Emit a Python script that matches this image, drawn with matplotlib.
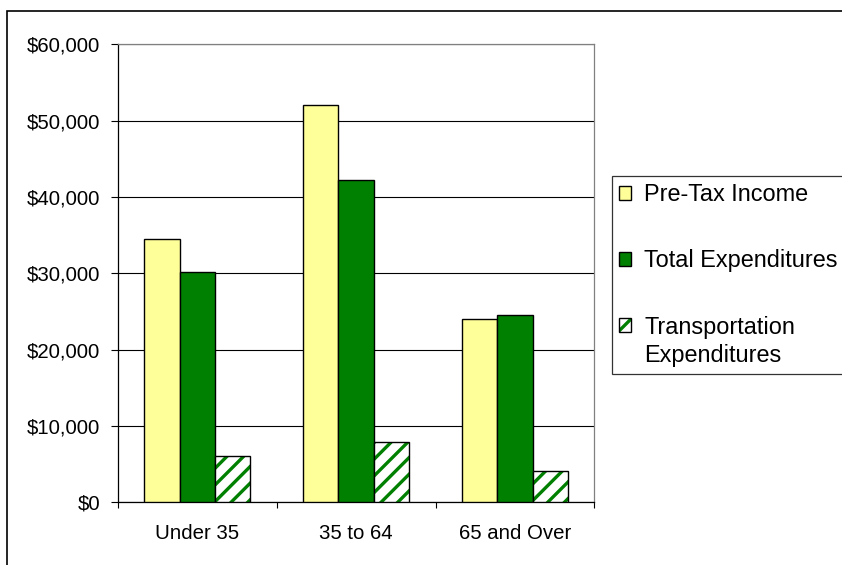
import matplotlib
matplotlib.use("Agg")
import matplotlib.pyplot as plt
from matplotlib.patches import Patch, Rectangle
from matplotlib.legend_handler import HandlerTuple
import numpy as np

plt.rcParams['font.family'] = ['Liberation Sans', 'DejaVu Sans']
plt.rcParams['hatch.linewidth'] = 2.4

categories = ["Under 35", "35 to 64", "65 and Over"]
series_names = ["Pre-Tax Income", "Total Expenditures", "Transportation\nExpenditures"]
pretax_income = [34500, 52100, 24000]
total_expenditures = [30200, 42200, 24600]
transportation_expenditures = [6000, 7900, 4100]
yticks = [0, 10000, 20000, 30000, 40000, 50000, 60000]
ytick_labels = ["$0", "$10,000", "$20,000", "$30,000", "$40,000", "$50,000", "$60,000"]

yellow = "#FFFF99"
green = "#008000"

fig = plt.figure(figsize=(8.42, 5.65), dpi=100)
ax = fig.add_axes([0.1401, 0.111, 0.7058 - 0.1401, 0.9216 - 0.111])

x = np.arange(len(categories))
w = 1 / 4.5
ax.bar(x - w, pretax_income, w, color=yellow, edgecolor="black", linewidth=1.0, zorder=3)
ax.bar(x, total_expenditures, w, color=green, edgecolor="black", linewidth=1.0, zorder=3)
ax.bar(x + w, transportation_expenditures, w, color="white", edgecolor=green,
       hatch="//", linewidth=0, zorder=3)
ax.bar(x + w, transportation_expenditures, w, color="none", edgecolor="black",
       linewidth=1.0, zorder=4)

ax.set_xlim(-0.5, 2.5)
ax.set_ylim(0, 60000)
ax.set_yticks(yticks)
ax.set_yticklabels(ytick_labels, fontsize=14.7)
ax.tick_params(axis="y", direction="out", length=4.8, width=0.8, pad=8, color="black")

ax.set_xticks([-0.5, 0.5, 1.5, 2.5])
ax.set_xticklabels([])
ax.set_xticks(x, minor=True)
ax.set_xticklabels(categories, minor=True, fontsize=14.7)
ax.tick_params(axis="x", which="major", direction="out", length=4.5, width=0.8, color="black")
ax.tick_params(axis="x", which="minor", length=0, pad=15.5)

ax.yaxis.grid(True, color="black", linewidth=0.8)
ax.set_axisbelow(True)
for s in ["left", "bottom"]:
    ax.spines[s].set_color("black")
    ax.spines[s].set_linewidth(0.9)
for s in ["top", "right"]:
    ax.spines[s].set_color("#808080")
    ax.spines[s].set_linewidth(0.9)


class ShiftedTuple(HandlerTuple):
    def __init__(self, shift, **kw):
        super().__init__(**kw)
        self._shift = shift

    def create_artists(self, legend, orig_handle, xdescent, ydescent, width, height,
                       fontsize, trans):
        return super().create_artists(legend, orig_handle, xdescent,
                                      ydescent - self._shift, width, height,
                                      fontsize, trans)


handles = [
    Patch(facecolor=yellow, edgecolor="black", linewidth=1.0),
    Patch(facecolor=green, edgecolor="black", linewidth=1.0),
    (Patch(facecolor="white", edgecolor=green, hatch="//", linewidth=0),
     Patch(facecolor="none", edgecolor="black", linewidth=1.0)),
]
leg = fig.legend(handles, series_names, loc="upper left",
                 bbox_to_anchor=(612 / 842, 1 - 176 / 565),
                 fontsize=16.9, frameon=True, fancybox=False, edgecolor="black",
                 handlelength=0.52, handleheight=0.52, handletextpad=0.55,
                 borderpad=0.3, labelspacing=1.85, borderaxespad=0,
                 handler_map={tuple: ShiftedTuple(12.5, ndivide=1)})
leg.get_frame().set_linewidth(0.9)
for t in leg.get_texts():
    t.set_linespacing(1.3)

# outer chart frame
fig.patches.append(Rectangle((7 / 842, -0.1), 1.2, 1 - 10.5 / 565 + 0.1,
                             transform=fig.transFigure, fill=False,
                             edgecolor="black", linewidth=1.2, zorder=0))

fig.savefig("out.png", dpi=100)
